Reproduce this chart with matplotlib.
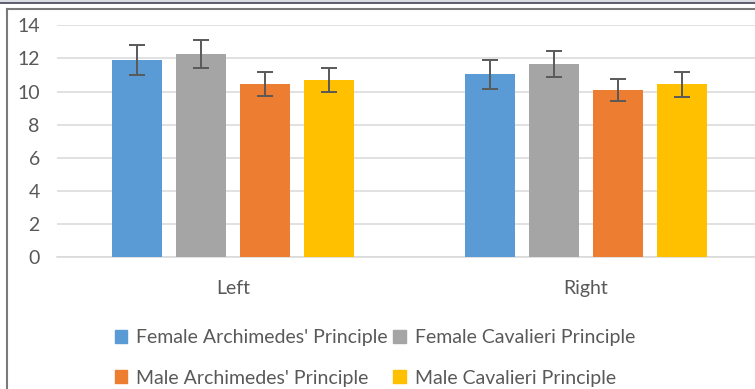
import numpy as np
import matplotlib
matplotlib.use("Agg")
import matplotlib.pyplot as plt
from matplotlib.patches import Patch, Rectangle
from matplotlib.lines import Line2D

# dati
lati = ["Left", "Right"]
serie = ["Female Archimedes' Principle", "Female Cavalieri Principle",
         "Male Archimedes' Principle", "Male Cavalieri Principle"]
medie = [
    [11.9, 11.05],   # Female Archimedes
    [12.25, 11.65],  # Female Cavalieri
    [10.45, 10.1],   # Male Archimedes
    [10.7, 10.45],   # Male Cavalieri
]
errori = [
    [0.9, 0.87],
    [0.84, 0.79],
    [0.72, 0.67],
    [0.7, 0.76],
]
colori = ["#5b9bd5", "#a5a5a5", "#ed7d31", "#ffc000"]

plt.rcParams['font.family'] = ['Lato', 'DejaVu Sans']

W, H = 755, 389
fig = plt.figure(figsize=(W / 100, H / 100), dpi=100)

# area del grafico (in pixel, poi frazioni della figura)
x0, x1 = 56.5, 762.5
y0, y1 = 257.3, 25.3
ax = fig.add_axes([x0 / W, 1 - y0 / H, (x1 - x0) / W, (y0 - y1) / H])

x = np.arange(len(lati))
passo = 64 / 353
larg = 50 / 353
for j in range(len(serie)):
    ax.bar(x + (j - 1.5) * passo, medie[j], larg, color=colori[j],
           yerr=errori[j], capsize=5.5, label=serie[j], zorder=3,
           error_kw=dict(ecolor="#595959", elinewidth=1.4, capthick=1.4))

ax.set_xlim(-0.5, 1.5)
ax.set_ylim(0, 14)
ax.set_yticks(np.arange(0, 15, 2))
ax.set_xticks(x)
ax.set_xticklabels(lati)
ax.yaxis.grid(True, color="#d9d9d9", linewidth=1.1, zorder=0)
for s in ["top", "right", "left"]:
    ax.spines[s].set_visible(False)
ax.spines["bottom"].set_color("#d9d9d9")
ax.spines["bottom"].set_linewidth(1.1)
ax.tick_params(axis="both", length=0, labelsize=14, colors="#595959")
ax.tick_params(axis="y", pad=12)
ax.tick_params(axis="x", pad=16.5)

# legenda 2x2 (ordine per righe)
ordine = [0, 2, 1, 3]
maniglie = [Patch(color=colori[i]) for i in ordine]
etichette = [serie[i] for i in ordine]
fig.legend(maniglie, etichette, ncol=2, frameon=False,
           loc="center left", bbox_to_anchor=(97 / W, 1 - 358 / H),
           fontsize=14, labelcolor="#595959",
           handlelength=0.65, handleheight=0.65, handletextpad=0.45,
           columnspacing=0.3, labelspacing=1.2)

# cornice
fig.add_artist(Rectangle((0, 1 - 3 / H), 1, 3 / H, transform=fig.transFigure,
                         color="#dcdce4", lw=0))
fig.add_artist(Line2D([0, 1], [1 - 3 / H, 1 - 3 / H], transform=fig.transFigure,
                      color="#444455", lw=1.2))
fig.add_artist(Line2D([6.5 / W, 1], [1 - 8.8 / H, 1 - 8.8 / H], transform=fig.transFigure,
                      color="#7a7a7a", lw=1.5))
fig.add_artist(Line2D([6.5 / W, 6.5 / W], [0, 1 - 8.8 / H], transform=fig.transFigure,
                      color="#7a7a7a", lw=1.5))

fig.savefig("out.png", dpi=100)
